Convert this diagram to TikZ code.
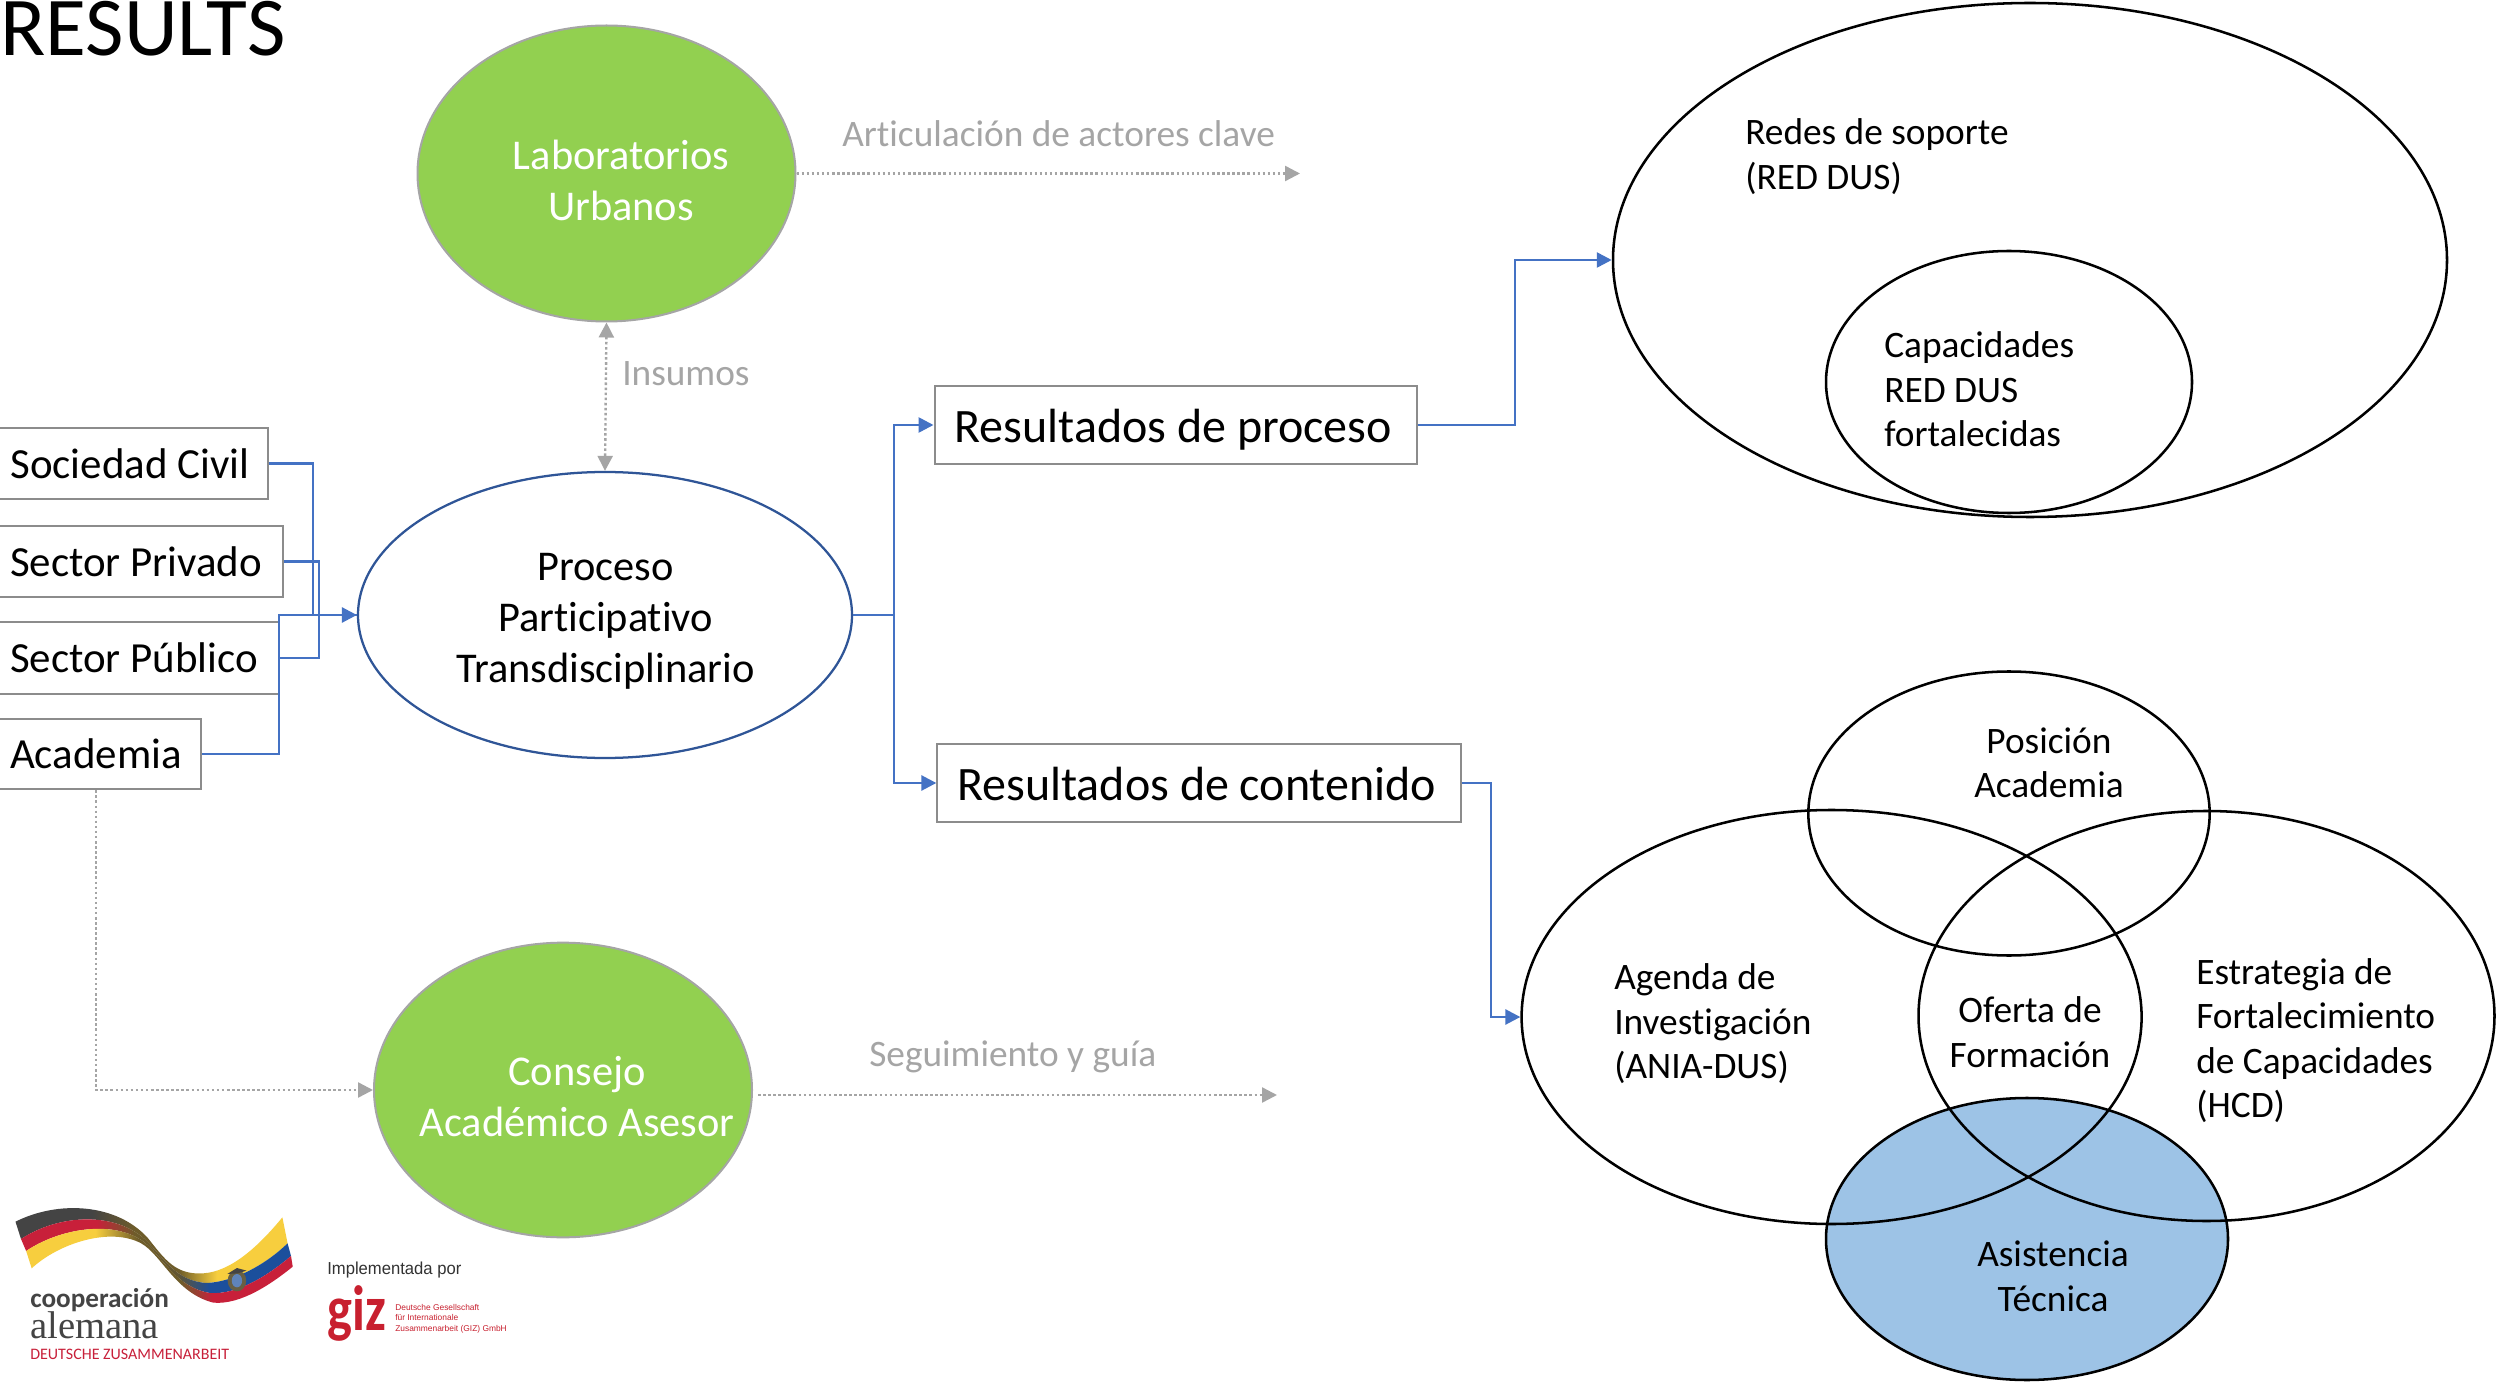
\documentclass[tikz,border=0pt]{standalone}
\usepackage{fontspec}
\usepackage{graphicx}
\setmainfont[Ligatures=NoCommon]{Carlito}
\newfontfamily\libsans{Liberation Sans}
\newfontfamily\libserif{Liberation Serif}
\usetikzlibrary{shapes.geometric,arrows.meta,calc}
\definecolor{connblue}{HTML}{4472C4}
\definecolor{procblue}{HTML}{2F5597}
\definecolor{boxgrey}{HTML}{8C8C8C}
\definecolor{dotgrey}{HTML}{A5A5A5}
\definecolor{labgreen}{HTML}{92D050}
\definecolor{asisblue}{HTML}{9DC3E6}
\definecolor{rbK}{HTML}{444444}
\definecolor{rbR}{HTML}{C8203A}
\definecolor{rbY}{HTML}{F7CE3E}
\definecolor{rbB}{HTML}{1B4F9C}
\definecolor{rbO}{HTML}{6E5C2A}
\definecolor{gizred}{HTML}{C8202F}
\pgfdeclarehorizontalshading{ribA}{100bp}{color(0bp)=(rbK); color(39bp)=(rbK); color(47bp)=(rbO); color(55bp)=(rbO); color(62bp)=(rbY); color(100bp)=(rbY)}
\pgfdeclarehorizontalshading{ribB}{100bp}{color(0bp)=(rbR); color(39bp)=(rbR); color(46bp)=(rbO); color(54bp)=(rbO!70!rbK); color(60bp)=(rbB); color(100bp)=(rbB)}
\pgfdeclarehorizontalshading{ribC}{100bp}{color(0bp)=(rbY); color(38bp)=(rbY); color(46bp)=(rbO); color(54bp)=(rbO); color(60bp)=(rbR); color(100bp)=(rbR)}
\tikzset{
  txt/.style={font=\fontsize{31.8pt}{38.25pt}\selectfont,inner sep=0pt,align=flush center,text=black},
  txts/.style={font=\fontsize{28pt}{33.4pt}\selectfont,inner sep=0pt,align=flush left,text=black},
  greytxt/.style={font=\fontsize{28pt}{33.4pt}\selectfont,inner sep=0pt,text=dotgrey},
  whitetxt/.style={txt,text=white},
  venn/.style={ellipse,draw=black,line width=1.9pt,inner sep=0pt},
  green/.style={ellipse,draw=dotgrey,line width=1.5pt,fill=labgreen,inner sep=0pt},
  actor/.style={rectangle,draw=boxgrey,line width=1.5pt,fill=white,inner ysep=0pt,inner xsep=11.25pt,align=flush left,font=\fontsize{32.2pt}{38.25pt}\selectfont},
  result/.style={rectangle,draw=boxgrey,line width=1.5pt,fill=white,inner ysep=0pt,inner xsep=15pt,align=flush left,text height=26pt,text depth=0pt,font=\fontsize{36pt}{44pt}\selectfont},
  conn/.style={draw=connblue,line width=2pt},
  connarr/.style={conn,-{Triangle[length=11.25pt,width=11.25pt]}},
  dotconn/.style={draw=dotgrey,line width=1.8pt,dash pattern=on 1.9pt off 1.9pt,-{Triangle[length=11.25pt,width=11.25pt]}},
}
\begin{document}
\begin{tikzpicture}[x=0.75pt,y=-0.75pt]
\useasboundingbox (0,0) rectangle (2496,1383);
\fill[white] (0,0) rectangle (2496,1383);
% title
\node[anchor=base west,inner sep=0pt,font=\fontsize{62.7pt}{70pt}\selectfont,text=black] (title) at (0,56) {RESULTS};
% green ellipses
\node[green,minimum width=283.5pt,minimum height=222pt] (lab) at (606.5,173.5) {};
\node[whitetxt] (labt) at (621,180) {Laboratorios\\Urbanos};
\node[green,minimum width=283.5pt,minimum height=221pt] (cons) at (563,1090) {};
\node[whitetxt] (const) at (577,1097) {Consejo\\Académico Asesor};
% process ellipse
\node[ellipse,draw=procblue,line width=1.7pt,inner sep=0pt,minimum width=370.5pt,minimum height=214.5pt] (proc) at (605,615) {};
\node[txt] (proct) at (605.5,621) {Proceso\\Participativo\\Transdisciplinario};
% actor boxes
\node[actor,minimum width=204pt,minimum height=53pt,text width=181.5pt] (soc) at (131.5,463.5) {Sociedad Civil};
\node[actor,minimum width=216pt,minimum height=53pt,text width=193.5pt] (pri) at (139,561.5) {Sector Privado};
\node[actor,minimum width=213pt,minimum height=54pt,text width=190.5pt] (pub) at (137,658) {Sector Público};
\node[actor,minimum width=154.5pt,minimum height=53pt,text width=132pt] (aca) at (98,754) {Academia};
% result boxes
\node[result,minimum width=361.5pt,minimum height=58.5pt,text width=331.5pt] (rproc) at (1175.5,425) {Resultados de proceso};
\node[result,minimum width=392.5pt,minimum height=58.5pt,text width=362.5pt] (rcont) at (1199,783) {Resultados de contenido};
% Redes
\node[venn,minimum width=625.5pt,minimum height=385.5pt] (redes) at (2030,260) {};
\node[venn,minimum width=274.5pt,minimum height=196.5pt] (capac) at (2009,382) {};
\node[txts,anchor=west] (redest) at (1745,156.6) {Redes de soporte\\(RED DUS)};
\node[txts,anchor=west] (capact) at (1884,389.4) {Capacidades\\RED DUS\\fortalecidas};
% Venn
\node[venn,fill=asisblue,minimum width=301.5pt,minimum height=211.5pt] (asis) at (2027,1239) {};
\node[venn,minimum width=301pt,minimum height=213pt] (posi) at (2009,813.5) {};
\node[venn,minimum width=465pt,minimum height=310.5pt] (agen) at (1831.6,1017) {};
\node[venn,minimum width=432pt,minimum height=307.5pt] (estr) at (2206.5,1016) {};
\node[txts,align=flush center] (posit) at (2049,763) {Posición\\Academia};
\node[txts,anchor=west] (agent) at (1614,1024) {Agenda de\\Investigación\\(ANIA-DUS)};
\node[txts,align=flush center] (ofert) at (2030,1032) {Oferta de\\Formación};
\node[txts,anchor=west] (estrt) at (2196,1040.6) {Estrategia de\\Fortalecimiento\\de Capacidades\\(HCD)};
\node[txts,align=flush center] (asist) at (2053,1276.5) {Asistencia\\Técnica};
% grey labels
\node[greytxt,anchor=west] (artic) at (842,134) {Articulación de actores clave};
\node[greytxt,anchor=west] (insum) at (622,374) {Insumos};
\node[greytxt,anchor=west] (segui) at (869,1057) {Seguimiento y guía};
% coordinates
\coordinate (busa) at (313,615);
\coordinate (busb) at (319,615);
\coordinate (busc) at (279,615);
\coordinate (busr) at (894,615);
\coordinate (redbend) at (1515,260);
\coordinate (contbend) at (1491,1017);
\coordinate (labend) at (1300,173.5);
\coordinate (consstart) at (758,1095);
\coordinate (consend) at (1277,1095);
\coordinate (acadown) at (96,1090);
% connectors
\draw[conn] (soc.east) -| (busa) -- (proc.west);
\draw[conn] (pri.east) -| (busb);
\draw[conn] (pub.east) -| (busb);
\draw[connarr] (aca.east) -| (busc) -- (proc.west);
\draw[conn] (proc.east) -- (busr);
\draw[connarr] (busr) |- (rproc.west);
\draw[connarr] (busr) |- (rcont.west);
\draw[connarr] (rproc.east) -| (redbend) -- (redes.west);
\draw[connarr] (rcont.east) -| (contbend) -- (agen.west);
\draw[dotconn] (lab.east) -- (labend);
\draw[dotconn,{Triangle[length=11.25pt,width=11.25pt]}-{Triangle[length=11.25pt,width=11.25pt]}] (lab.south) -- (proc.north);
\draw[dotconn] (consstart) -- (consend);
\draw[dotconn] (aca.south -| acadown) -- (acadown) -- (cons.west);
% logo ribbon
\begin{scope}[shift={(0,1180)},x=0.2583pt,y=-0.25pt]
\path[shading=ribA] (45,125) .. controls (170,60) and (340,70) .. (430,175) .. controls (480,240) and (510,285) .. (590,280) .. controls (670,275) and (750,200) .. (820,112) -- (835,190) .. controls (770,255) and (680,305) .. (600,309) .. controls (510,303) and (477,235) .. (423,180) .. controls (333,93) and (170,103) .. (61,177) -- cycle;
\path[shading=ribB] (61,177) .. controls (170,103) and (333,93) .. (423,180) .. controls (477,235) and (510,303) .. (600,309) .. controls (680,305) and (770,255) .. (835,190) -- (845,228) .. controls (780,285) and (690,345) .. (610,339) .. controls (510,322) and (473,230) .. (417,185) .. controls (327,117) and (170,147) .. (76,213) -- cycle;
\path[shading=ribC] (76,213) .. controls (170,147) and (327,117) .. (417,185) .. controls (473,230) and (510,322) .. (610,339) .. controls (690,345) and (780,285) .. (845,228) -- (850,260) .. controls (790,310) and (700,375) .. (620,368) .. controls (510,340) and (470,225) .. (410,190) .. controls (320,140) and (170,190) .. (92,265) -- cycle;
\fill[rbK!80!rbY] (688,302) ellipse (27 and 32);
\fill[rbB!70!white] (688,302) ellipse (15 and 20);
\fill[rbK] (660,282) -- (688,264) -- (716,272) -- (690,280) -- cycle;
\end{scope}
% logo text
\node[anchor=base west,inner sep=0pt,text=rbK,font=\fontsize{20.4pt}{24pt}\bfseries\selectfont] (lcoop) at (30,1307) {cooperación};
\node[anchor=base west,inner sep=0pt,text=rbK,font=\libserif\fontsize{29pt}{32pt}\selectfont] (lalem) at (30,1338) {alemana};
\node[anchor=base west,inner sep=0pt,text=rbR,font=\fontsize{12pt}{14pt}\selectfont] (ldeut) at (30,1359) {DEUTSCHE ZUSAMMENARBEIT};
\node[anchor=base west,inner sep=0pt,text=black!80,font=\libsans\fontsize{13pt}{15pt}\selectfont] (limpl) at (327,1274) {\scalebox{0.96}[1]{Implementada por}};
\node[anchor=base west,inner sep=0pt,text=gizred,font=\fontsize{48pt}{50pt}\bfseries\selectfont] (lgiz) at (327,1330) {\scalebox{0.82}[1]{giz}};
\node[anchor=base west,inner sep=0pt,text=gizred,font=\libsans\fontsize{6.3pt}{8pt}\selectfont] (lgma) at (395,1310) {Deutsche Gesellschaft};
\node[anchor=base west,inner sep=0pt,text=gizred,font=\libsans\fontsize{6.3pt}{8pt}\selectfont] (lgmb) at (395,1320.5) {für Internationale};
\node[anchor=base west,inner sep=0pt,text=gizred,font=\libsans\fontsize{6.3pt}{8pt}\selectfont] (lgmc) at (395,1331) {Zusammenarbeit (GIZ) GmbH};
\end{tikzpicture}
\end{document}
